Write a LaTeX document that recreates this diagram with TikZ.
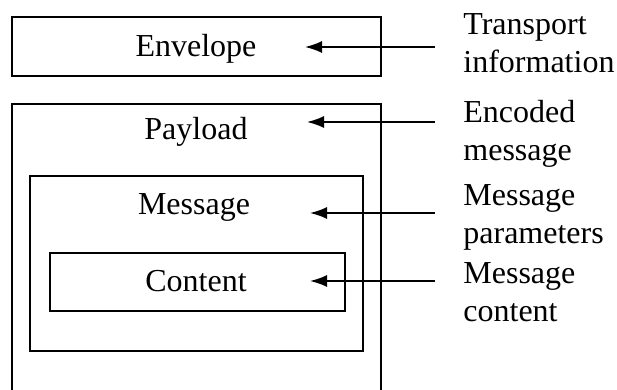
\documentclass[tikz,border=0pt]{standalone}
\usepackage{fontspec}
\setmainfont{Liberation Serif}
\usetikzlibrary{arrows.meta,positioning}

\begin{document}
\begin{tikzpicture}[
    x=0.5pt, y=-0.5pt,
    font=\fontsize{16}{19}\selectfont,
    box/.style={draw, line width=0.85pt, inner sep=0pt},
    ttl/.style={inner sep=0pt, anchor=base},
    note/.style={inner sep=0pt, align=left, anchor=north west},
    lnk/.style={-{Latex[length=8.5pt,width=6pt]}, line width=0.85pt, shorten <=14pt},
    ]
\path[use as bounding box, clip] (0,0) rectangle (617,390);

\node[box, minimum width=184.5pt, minimum height=29.5pt] (env) at (196.5,46.5) {};
\node[box, minimum width=184.5pt, minimum height=148pt] (pay) at (196.5,252) {};
\node[box, minimum width=166.5pt, minimum height=87.5pt] (msg) at (196.5,263.5) {};
\node[box, minimum width=147.5pt, minimum height=29pt] (con) at (197.5,282) {};

\node[ttl] (envt) at (196,57) {Envelope};
\node[ttl] (payt) at (196,140) {Payload};
\node[ttl] (msgt) at (194,215) {Message};
\node[ttl] (cont) at (196,292) {Content};

\node[note] (tr) at (463,13) {Transport\\information};
\node[note] (enc) at (463,100) {Encoded\\message};
\node[note] (par) at (463,184) {Message\\parameters};
\node[note] (mc) at (463,262) {Message\\content};

\coordinate (envp) at (305,47);
\coordinate (payp) at (307,122);
\coordinate (msgp) at (310,213);
\coordinate (conp) at (310,281);

\draw[lnk] (tr.west |- envp) -- (envp);
\draw[lnk] (enc.west |- payp) -- (payp);
\draw[lnk] (par.west |- msgp) -- (msgp);
\draw[lnk] (mc.west |- conp) -- (conp);
\end{tikzpicture}
\end{document}
